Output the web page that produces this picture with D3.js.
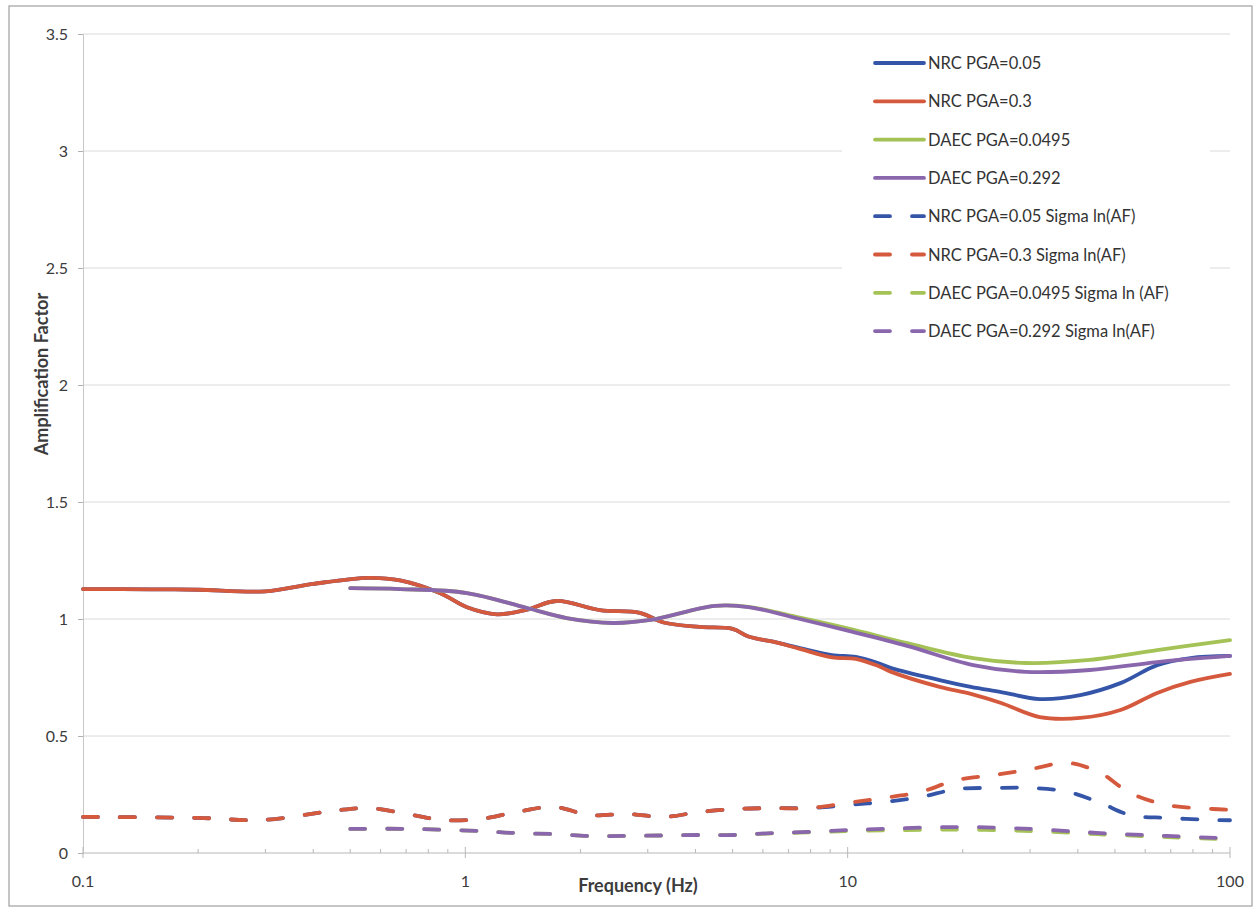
<!DOCTYPE html>
<html>
<head>
<meta charset="utf-8">
<script src="https://cdn.jsdelivr.net/npm/d3@7"></script>
<style>
  html, body { margin: 0; padding: 0; background: #fff; }
  svg { display: block; font-family: Lato, "Open Sans", sans-serif; }
</style>
</head>
<body>
<svg id="chart" width="1259" height="914"></svg>
<script>
// frequencies (Hz) and amplification factors
const nrcFreq = [0.1, 0.15, 0.2, 0.3, 0.4, 0.56, 0.675, 0.86, 1.01, 1.21, 1.45, 1.73, 2.25, 2.86, 3.3, 4.1, 5.0, 5.5, 6.5, 7.5, 9.1, 10.5, 12, 13, 17.4, 21, 25.2, 31.8, 40.6, 51.7, 64.5, 78.8, 100];
const nrc005 = [1.128, 1.127, 1.125, 1.118, 1.15, 1.176, 1.165, 1.11, 1.05, 1.02, 1.04, 1.077, 1.038, 1.026, 0.985, 0.966, 0.958, 0.925, 0.9, 0.876, 0.846, 0.838, 0.812, 0.79, 0.739, 0.71, 0.688, 0.658, 0.675, 0.726, 0.803, 0.833, 0.842];
const nrc03  = [1.128, 1.127, 1.125, 1.118, 1.15, 1.176, 1.165, 1.11, 1.05, 1.02, 1.04, 1.077, 1.038, 1.026, 0.985, 0.966, 0.958, 0.925, 0.9, 0.872, 0.836, 0.83, 0.8, 0.774, 0.71, 0.68, 0.641, 0.581, 0.577, 0.611, 0.684, 0.731, 0.765];

const daecFreq = [0.5, 0.675, 1.01, 1.45, 1.84, 2.44, 3.05, 4.5, 5.5, 7.5, 10, 14.3, 21.3, 29.2, 43, 64.5, 100];
const daec0495 = [1.132, 1.128, 1.111, 1.047, 1.004, 0.983, 0.996, 1.056, 1.052, 1.006, 0.96, 0.897, 0.833, 0.812, 0.825, 0.867, 0.91];
const daec0292 = [1.132, 1.128, 1.111, 1.047, 1.004, 0.983, 0.996, 1.056, 1.051, 1.0, 0.95, 0.885, 0.803, 0.774, 0.782, 0.816, 0.842];

const nrcSigFreq = [0.1, 0.2, 0.295, 0.45, 0.56, 0.73, 0.87, 1.09, 1.36, 1.7, 2.12, 2.66, 3.3, 4.1, 5.1, 6.3, 7.9, 10, 12.4, 15.5, 19.3, 24.2, 30.2, 37.7, 45.8, 54.9, 68.5, 90, 100];
const nrc005Sig = [0.154, 0.15, 0.141, 0.18, 0.192, 0.162, 0.141, 0.145, 0.175, 0.197, 0.162, 0.167, 0.154, 0.175, 0.188, 0.192, 0.192, 0.205, 0.218, 0.239, 0.273, 0.278, 0.278, 0.261, 0.214, 0.162, 0.15, 0.141, 0.14];
const nrc03Sig  = [0.154, 0.15, 0.141, 0.18, 0.192, 0.162, 0.141, 0.145, 0.175, 0.197, 0.162, 0.167, 0.154, 0.175, 0.188, 0.192, 0.192, 0.214, 0.235, 0.261, 0.312, 0.333, 0.359, 0.385, 0.342, 0.256, 0.205, 0.188, 0.185];

const daecSigFreq = [0.5, 0.71, 1.09, 1.36, 1.7, 2.12, 2.66, 4.1, 5.1, 6.3, 7.9, 10, 12.4, 19.3, 30.2, 45.8, 68.5, 100];
const daec0495Sig = [0.103, 0.103, 0.094, 0.085, 0.081, 0.073, 0.073, 0.077, 0.077, 0.084, 0.088, 0.094, 0.097, 0.1, 0.094, 0.08, 0.068, 0.058];
const daec0292Sig = [0.103, 0.103, 0.094, 0.085, 0.081, 0.073, 0.073, 0.077, 0.077, 0.085, 0.09, 0.098, 0.103, 0.111, 0.103, 0.085, 0.073, 0.062];

const xTicks = [0.1, 1, 10, 100];
const yTicks = [0, 0.5, 1, 1.5, 2, 2.5, 3, 3.5];

const BLUE = '#3556a8', RED = '#d5593d', GREEN = '#a4c255', PURPLE = '#8a66ad';

const series = [
  { name: 'NRC PGA=0.05', f: nrcFreq, v: nrc005, color: BLUE, dash: false },
  { name: 'NRC PGA=0.3', f: nrcFreq, v: nrc03, color: RED, dash: false },
  { name: 'DAEC PGA=0.0495', f: daecFreq, v: daec0495, color: GREEN, dash: false },
  { name: 'DAEC PGA=0.292', f: daecFreq, v: daec0292, color: PURPLE, dash: false },
  { name: 'NRC PGA=0.05 Sigma ln(AF)', f: nrcSigFreq, v: nrc005Sig, color: BLUE, dash: true },
  { name: 'NRC PGA=0.3 Sigma ln(AF)', f: nrcSigFreq, v: nrc03Sig, color: RED, dash: true },
  { name: 'DAEC PGA=0.0495 Sigma ln (AF)', f: daecSigFreq, v: daec0495Sig, color: GREEN, dash: true },
  { name: 'DAEC PGA=0.292 Sigma ln(AF)', f: daecSigFreq, v: daec0292Sig, color: PURPLE, dash: true }
];

const svg = d3.select('#chart');
const plotL = 83, plotR = 1230, plotT = 34, plotB = 853;

const x = d3.scaleLog().domain([0.1, 100]).range([plotL, plotR]);
const y = d3.scaleLinear().domain([0, 3.5]).range([plotB, plotT]);

// outer frame
svg.append('rect').attr('x', 9).attr('y', 6).attr('width', 1243).attr('height', 900)
  .attr('fill', '#fff').attr('stroke', '#a0a0a0').attr('stroke-width', 1.2);

// horizontal gridlines
svg.append('g').selectAll('line').data(yTicks.filter(d => d > 0)).enter().append('line')
  .attr('x1', plotL).attr('x2', plotR)
  .attr('y1', d => y(d)).attr('y2', d => y(d))
  .attr('stroke', '#dadada').attr('stroke-width', 1);

// y axis
const yAxis = svg.append('g').attr('transform', `translate(${plotL},0)`)
  .call(d3.axisLeft(y).tickValues(yTicks).tickFormat(d3.format('')).tickSize(5).tickPadding(10));
yAxis.select('.domain').attr('stroke', '#c8c8c8');
yAxis.selectAll('.tick line').attr('stroke', '#b0b0b0');
yAxis.selectAll('.tick text').attr('fill', '#3c3c3c').style('font-size', '16px').style('font-family', 'Lato, sans-serif');

// x axis with minor log ticks
const minor = [];
for (let dec = 0.1; dec < 100; dec *= 10) for (let k = 2; k <= 9; k++) minor.push(+(dec * k).toPrecision(3));
const xg = svg.append('g').attr('transform', `translate(0,${plotB})`);
xg.append('line').attr('x1', plotL).attr('x2', plotR).attr('stroke', '#b8b8b8').attr('stroke-width', 1.2);
xg.selectAll('line.minor').data(minor).enter().append('line').attr('class', 'minor')
  .attr('x1', d => x(d)).attr('x2', d => x(d)).attr('y1', 0).attr('y2', -4)
  .attr('stroke', '#b8b8b8');
xg.selectAll('line.major').data(xTicks).enter().append('line').attr('class', 'major')
  .attr('x1', d => x(d)).attr('x2', d => x(d)).attr('y1', -6).attr('y2', 5)
  .attr('stroke', '#b8b8b8');
xg.selectAll('text').data(xTicks).enter().append('text')
  .attr('x', d => x(d)).attr('y', 34).attr('text-anchor', 'middle')
  .attr('fill', '#3c3c3c').style('font-size', '16px').text(d => d);

// axis titles
svg.append('text').attr('x', 638).attr('y', 892).attr('text-anchor', 'middle')
  .attr('fill', '#3c3c3c').style('font-size', '18px').style('font-weight', 'bold')
  .text('Frequency (Hz)');
svg.append('text').attr('transform', 'translate(48,374) rotate(-90)').attr('text-anchor', 'middle')
  .attr('fill', '#3c3c3c').style('font-size', '18px').style('font-weight', 'bold')
  .text('Amplification Factor');

// curves
const line = d3.line().x(d => x(d[0])).y(d => y(d[1])).curve(d3.curveCatmullRom.alpha(0.5));
const plot = svg.append('g');
series.forEach(s => {
  plot.append('path')
    .datum(s.f.map((f, i) => [f, s.v[i]]))
    .attr('d', line)
    .attr('fill', 'none')
    .attr('stroke', s.color)
    .attr('stroke-width', 3.8)
    .attr('stroke-linecap', 'round')
    .attr('stroke-dasharray', s.dash ? '15 22' : null);
});

// legend
const lg = svg.append('g');
lg.append('rect').attr('x', 842).attr('y', 40).attr('width', 368).attr('height', 300).attr('fill', '#fff');
const item = lg.selectAll('g.item').data(series).enter().append('g').attr('class', 'item')
  .attr('transform', (d, i) => `translate(0,${57 + i * 38.3})`);
item.append('line').attr('x1', 875).attr('x2', 924).attr('y1', 6).attr('y2', 6)
  .attr('stroke', d => d.color).attr('stroke-width', 3.8).attr('stroke-linecap', 'round')
  .attr('stroke-dasharray', d => d.dash ? '15 22' : null);
item.append('text').attr('x', 928).attr('y', 12)
  .attr('fill', '#333').style('font-size', '16.5px').text(d => d.name);
</script>
</body>
</html>
